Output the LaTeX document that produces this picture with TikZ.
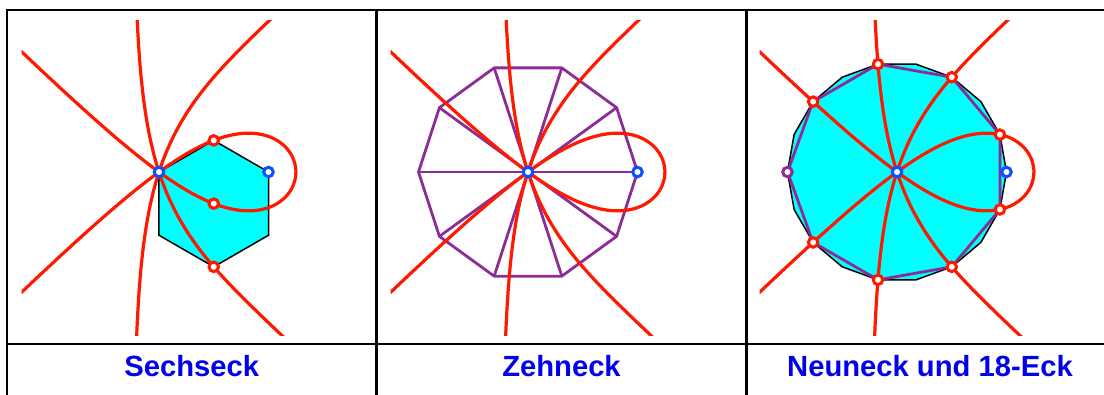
\documentclass[tikz,border=0pt]{standalone}
\usepackage{fontspec}
\setmainfont{Liberation Sans}
\usetikzlibrary{positioning,calc}

\definecolor{kurvrot}{RGB}{255,25,0}
\definecolor{punktblau}{RGB}{10,80,255}
\definecolor{violett}{RGB}{140,45,150}
\definecolor{titelblau}{RGB}{0,0,235}
\definecolor{tuerkis}{RGB}{0,255,255}

\tikzset{
  kurve/.style={draw=kurvrot, line width=3.2bp, line join=round},
  flaeche/.style={draw=black, line width=1.5bp, fill=tuerkis, line join=miter},
  violinie/.style={draw=violett, line width=2.8bp, line join=round},
  tabelle/.style={draw=black, line width=2.2bp},
  pkt/.style={circle, draw=#1, fill=white, line width=3bp, inner sep=0pt, minimum size=9.5bp},
  titel/.style={text=titelblau, font=\fontsize{29.3}{35}\selectfont\bfseries, anchor=base}
}

% r = sin(5 phi)/sin(4 phi), drei Aeste zwischen den Polen
\newcommand{\rotekurve}{%
  \draw[kurve] plot[domain=-44.2:44.25, samples=300]
    ({sin(5*\x)/sin(4*\x)*cos(\x)},{sin(5*\x)/sin(4*\x)*sin(\x)});
  \draw[kurve] plot[domain=45.8:89.2, samples=200]
    ({sin(5*\x)/sin(4*\x)*cos(\x)},{sin(5*\x)/sin(4*\x)*sin(\x)});
  \draw[kurve] plot[domain=90.8:134.2, samples=200]
    ({sin(5*\x)/sin(4*\x)*cos(\x)},{sin(5*\x)/sin(4*\x)*sin(\x)});
}
\newcommand{\kurvenfenster}{\clip (-1.254,-1.49) rectangle (1.8,1.388);}

\begin{document}
\begin{tikzpicture}[x=1bp, y=-1bp]
  \useasboundingbox (0,0) rectangle (1104,394);

  % Tabelle
  \draw[tabelle] (7,400) -- (7,10) -- (1120,10);
  \draw[tabelle] (7,344) -- (1120,344);
  \draw[tabelle] (376.5,10) -- (376.5,400);
  \draw[tabelle] (746.5,10) -- (746.5,400);

  % Sechseck
  \begin{scope}[shift={(159,172)}, x=109.5bp, y=109.5bp]
    \coordinate (O1) at (0,0);
    \coordinate (M1) at (0.5,-0.2887);
    \foreach \k in {0,...,5} \coordinate (s\k) at ($(M1)+(90+60*\k:0.5774)$);
    \draw[flaeche] (s0) -- (s1) -- (s2) -- (s3) -- (s4) -- (s5) -- cycle;
    \begin{scope} \kurvenfenster \rotekurve \end{scope}
    \node[pkt=kurvrot] (h0) at (s0) {};
    \node[pkt=kurvrot] (hm) at (M1) {};
    \node[pkt=kurvrot] (h3) at (s3) {};
    \node[pkt=punktblau] (p1) at (O1) {};
    \node[pkt=punktblau] (q1) at (s5) {};
  \end{scope}

  % Zehneck
  \begin{scope}[shift={(528,172)}, x=109.5bp, y=109.5bp]
    \coordinate (O2) at (0,0);
    \foreach \k in {0,...,9} \coordinate (z\k) at (36*\k:1);
    \draw[violinie] (z0) \foreach \k in {1,...,9} {-- (z\k)} -- cycle;
    \foreach \k in {0,...,9} \draw[violinie] (O2) -- (z\k);
    \begin{scope} \kurvenfenster \rotekurve \end{scope}
    \node[pkt=punktblau] (p2) at (O2) {};
    \node[pkt=punktblau] (q2) at (z0) {};
  \end{scope}

  % Neuneck und 18-Eck
  \begin{scope}[shift={(897,172)}, x=109.5bp, y=109.5bp]
    \coordinate (O3) at (0,0);
    \foreach \k in {0,...,17} \coordinate (a\k) at (20*\k:1);
    \draw[flaeche] (a0) \foreach \k in {1,...,17} {-- (a\k)} -- cycle;
    \draw[violinie] (a1) \foreach \k in {3,5,...,17} {-- (a\k)} -- cycle;
    \begin{scope} \kurvenfenster \rotekurve \end{scope}
    \foreach \k in {1,3,5,7,11,13,15,17} \node[pkt=kurvrot] (n\k) at (a\k) {};
    \node[pkt=violett] (n9) at (a9) {};
    \node[pkt=punktblau] (p3) at (O3) {};
    \node[pkt=punktblau] (q3) at (a0) {};
  \end{scope}

  % Beschriftung
  \node[titel] (t1) at (191.7,376.7) {Sechseck};
  \node[titel] (t2) at (561.5,376.7) {Zehneck};
  \node[titel] (t3) at (930,376.7) {Neuneck und 18-Eck};
\end{tikzpicture}
\end{document}
